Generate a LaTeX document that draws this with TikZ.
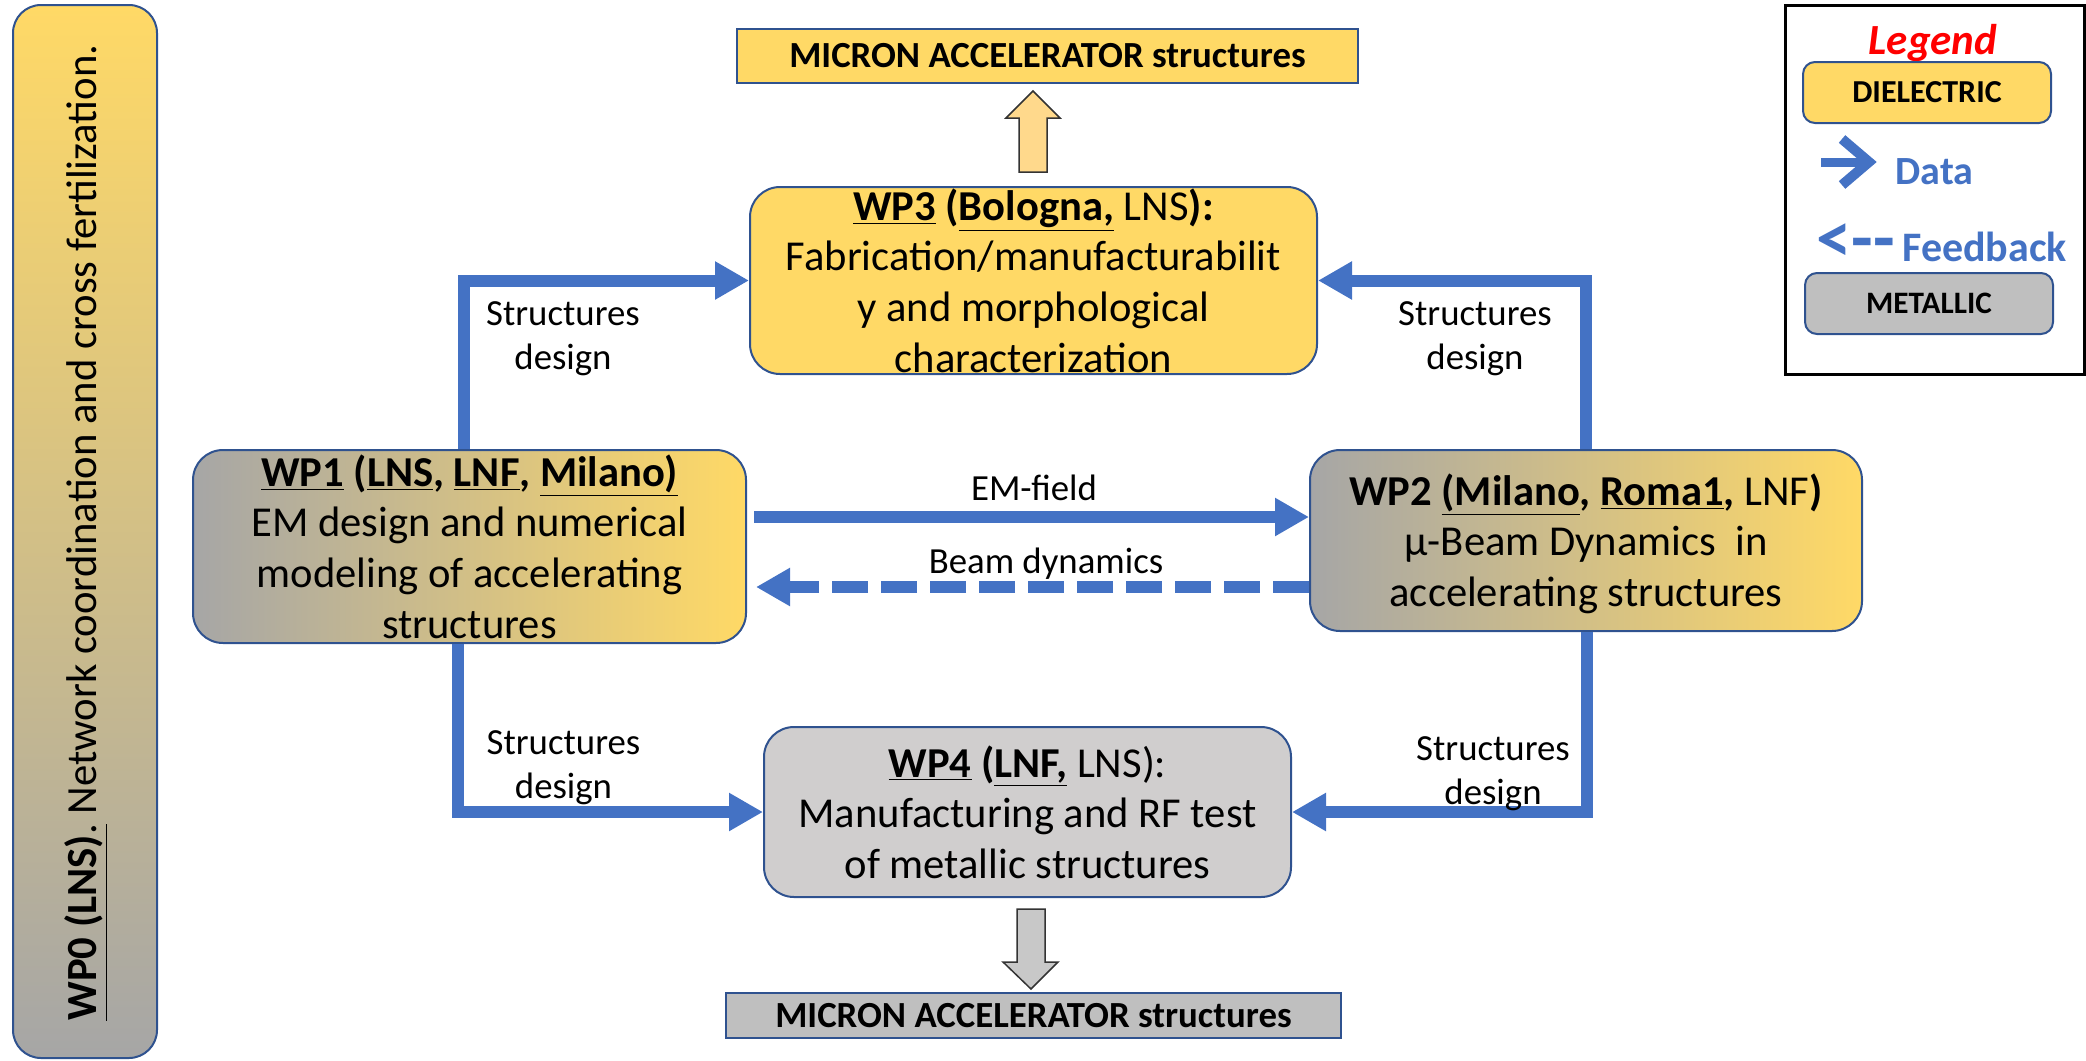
\documentclass[tikz,border=0pt]{standalone}
\usepackage{fontspec}
\setmainfont{Carlito}
\usepackage{graphicx}
\usetikzlibrary{arrows.meta,calc}
\definecolor{gold}{HTML}{FFD966}
\definecolor{bord}{HTML}{2F528F}
\definecolor{cblue}{HTML}{4472C4}
\definecolor{metal}{HTML}{D0CECE}
\definecolor{metalB}{HTML}{BFBFBF}
\definecolor{grayL}{HTML}{A6A6A6}
\definecolor{upfill}{HTML}{FFD98C}
\definecolor{downfill}{HTML}{C8C8C8}
\newcommand\WPf{\fontsize{21.3}{25.3}\selectfont}
\newcommand\LBf{\fontsize{18.4}{22}\selectfont}
\newcommand\MCf{\fontsize{18.4}{20}\selectfont\bfseries}
\begin{document}
\begin{tikzpicture}[x=0.5pt,y=-0.5pt,
  box/.style={draw=bord, line width=1pt, rounded corners=15pt, inner sep=0pt},
  rectbox/.style={draw=bord, line width=1pt, inner sep=0pt, font=\MCf},
  wptext/.style={align=center, font=\WPf, inner sep=0pt, text=black},
  conn/.style={draw=cblue, line width=6pt, -{Triangle[length=17pt,width=18pt]}},
  lbl/.style={align=center, font=\LBf, inner sep=0pt},
  blockarrow/.style={draw=black!80, line width=0.75pt, line join=miter}
]
\useasboundingbox (0,0) rectangle (2086,1060);

% WP0 side bar
\node[box, top color=gold, bottom color=grayL, minimum width=72pt, minimum height=526.5pt, rounded corners=14pt] (wp0) at (85,531.5) {};
\node[rotate=90, font=\fontsize{21.5}{25}\selectfont, inner sep=0pt] (wp0t) at (86,532.5)
  {\resizebox{488pt}{\height}{\underline{\textbf{WP0 (LNS)}.} Network coordination and cross fertilization.}};

% top output
\node[rectbox, fill=gold, minimum width=310.5pt, minimum height=27pt] (mtop) at (1047.5,56) {MICRON ACCELERATOR structures};

% WP3
\node[box, fill=gold, minimum width=283.5pt, minimum height=93.5pt] (wp3) at (1033.5,280.5) {};
\node[wptext] (wp3t) at (wp3.center) {\textbf{\underline{WP3} (\underline{Bologna,}} LNS\textbf{):}\\Fabrication/manufacturabilit\\y and morphological\\characterization};

% WP1
\node[box, left color=grayL, right color=gold, minimum width=276.5pt, minimum height=96.5pt] (wp1) at (469.5,546.5) {};
\node[wptext] (wp1t) at (wp1.center) {\textbf{\underline{WP1} (\underline{LNS}, \underline{LNF}, \underline{Milano)}}\\EM design and numerical\\modeling of accelerating\\structures};

% WP2
\node[box, left color=grayL, right color=gold, minimum width=276pt, minimum height=90.5pt] (wp2) at (1586,540.5) {};
\node[wptext] (wp2t) at ([yshift=-1.5pt]wp2.center) {\textbf{WP2 \underline{(Milano}, \underline{Roma1}, }LNF\textbf{)}\\µ-Beam Dynamics~ in\\accelerating structures};

% WP4
\node[box, fill=metal, minimum width=263.5pt, minimum height=85pt] (wp4) at (1027.5,812) {};
\node[wptext] (wp4t) at (wp4.center) {\textbf{\underline{WP4} (\underline{LNF,}} LNS):\\Manufacturing and RF test\\of metallic structures};

% bottom output
\node[rectbox, fill=metalB, minimum width=307.5pt, minimum height=22.5pt] (mbot) at (1033.5,1015.5) {MICRON ACCELERATOR structures};

% block arrows
\draw[blockarrow, fill=upfill] (1019,172) -- (1019,118) -- (1006,118) -- (1033,91) -- (1060,118) -- (1047,118) -- (1047,172) -- cycle;
\draw[blockarrow, fill=downfill] (1017,909) -- (1045,909) -- (1045,962) -- (1058,962) -- (1031,989) -- (1003,962) -- (1017,962) -- cycle;

% connectors
\draw[conn] ([xshift=-2.75pt]wp1.north) |- (wp3.west);
\draw[conn] (wp2.north) |- (wp3.east);
\draw[conn] ([xshift=-6pt]wp1.south) |- (wp4.west);
\draw[conn] ([xshift=0.5pt]wp2.south) |- (wp4.east);
\draw[conn] ([xshift=3.5pt,yshift=14.75pt]wp1.east) -- ([yshift=11.75pt]wp2.west);
\draw[conn, dash pattern=on 18pt off 6.5pt] ([yshift=-23.25pt]wp2.west) -- ([xshift=4.5pt,yshift=-20.25pt]wp1.east);

% connector labels
\node[lbl] (l13) at (563,339) {Structures\\design};
\node[lbl] (l23) at (1475,339) {Structures\\design};
\node[lbl] (l14) at (563.5,767.5) {Structures\\design};
\node[lbl] (l24) at (1493,774) {Structures\\design};
\node[lbl] (lem) at (1034,488) {EM-field};
\node[lbl] (lbd) at (1046,564) {Beam dynamics};

% legend
\node[draw=black, line width=1.5pt, minimum width=149.5pt, minimum height=184.5pt, inner sep=0pt] (leg) at (1934.5,189.5) {};
\node[font=\fontsize{21.5}{21.5}\selectfont\bfseries\itshape, text=red, inner sep=0pt] (legt) at (1933,43) {Legend};
\node[box, fill=gold, rounded corners=6pt, minimum width=124pt, minimum height=30.5pt, font=\fontsize{16}{16}\selectfont\bfseries] (ldiel) at (1927,92.5) {DIELECTRIC};
\draw[cblue, line width=4.5pt] (1821,162) -- (1866,162);
\draw[cblue, line width=5pt] (1842,139) -- (1869,162) -- (1842,185);
\node[text=cblue, font=\fontsize{20}{20}\selectfont\bfseries, anchor=west, inner sep=0pt] (ldata) at (1895,172) {Data};
\node[text=cblue, font=\fontsize{24}{24}\selectfont\bfseries, anchor=west, inner sep=0pt] (lfbarr) at (1816,243) {\scalebox{1.47}[1.5]{<-{}-}};
\node[text=cblue, font=\fontsize{21}{21}\selectfont\bfseries, anchor=west, inner sep=0pt] (lfb) at (1902,247) {Feedback};
\node[box, fill=metalB, rounded corners=6pt, minimum width=124pt, minimum height=30.5pt, font=\fontsize{15.6}{16}\selectfont\bfseries] (lmet) at (1929,303.5) {METALLIC};
\end{tikzpicture}
\end{document}
